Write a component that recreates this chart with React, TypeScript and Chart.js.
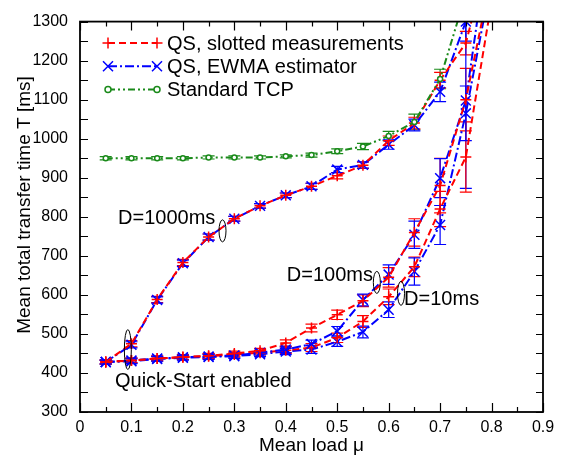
import React, { useEffect, useRef } from "react";
import { Chart, registerables } from "chart.js";
Chart.register(...registerables);

// ---- data ----
const loads = [0.05, 0.1, 0.15, 0.2, 0.25, 0.3, 0.35, 0.4, 0.45, 0.5, 0.55, 0.6, 0.65, 0.7, 0.75, 0.8];
const tcpLoads = [0.05, 0.1, 0.15, 0.2, 0.25, 0.3, 0.35, 0.4, 0.45, 0.5, 0.55, 0.6, 0.65, 0.7, 0.75];

const slotted1000 = [428, 475, 588, 683, 748, 795, 828, 855, 878, 905, 932, 995, 1040, 1150, 1245, 1500];
const slotted1000Err = [5, 8, 8, 8, 8, 6, 6, 6, 8, 8, 8, 12, 15, 20, 30, 0];
const ewma1000 = [428, 472, 587, 681, 748, 795, 828, 855, 878, 921, 933, 985, 1035, 1120, 1300, 1600];
const ewma1000Err = [5, 8, 8, 8, 8, 6, 6, 6, 8, 8, 8, 12, 15, 25, 50, 0];

const slotted100 = [428, 432, 437, 441, 444, 450, 457, 477, 515, 549, 585, 645, 760, 880, 1100, 1420];
const slotted100Err = [5, 6, 6, 6, 6, 6, 6, 8, 10, 12, 15, 25, 35, 70, 80, 0];
const ewma100 = [428, 432, 437, 440, 442, 445, 452, 460, 474, 507, 587, 652, 754, 899, 1098, 1560];
const ewma100Err = [5, 6, 6, 6, 6, 6, 6, 8, 10, 12, 15, 25, 35, 50, 225, 0];

const slotted10 = [428, 432, 437, 440, 443, 447, 452, 458, 465, 490, 532, 595, 672, 820, 953, 1350];
const slotted10Err = [5, 6, 6, 6, 6, 6, 6, 8, 10, 12, 15, 20, 25, 45, 90, 0];
const ewma10 = [428, 430, 436, 439, 441, 443, 448, 455, 460, 480, 505, 562, 660, 779, 1065, 1410];
const ewma10Err = [5, 6, 6, 6, 6, 6, 6, 8, 10, 12, 15, 20, 35, 50, 70, 0];

const tcp = [950, 950, 950, 950, 952, 952, 952, 955, 958, 968, 980, 1007, 1043, 1153, 1370];
const tcpErr = [4, 4, 4, 4, 4, 4, 4, 4, 5, 6, 8, 12, 20, 25, 0];

const xTickLabels = ["0", "0.1", "0.2", "0.3", "0.4", "0.5", "0.6", "0.7", "0.8", "0.9"];
const yTickLabels = ["300", "400", "500", "600", "700", "800", "900", "1000", "1100", "1200", "1300"];

const legendLabels = ["QS, slotted measurements", "QS, EWMA estimator", "Standard TCP"];
const annotationTexts = ["D=1000ms", "D=100ms", "D=10ms", "Quick-Start enabled"];
const annotationAt = [[0.074, 796], [0.402, 650], [0.63, 588], [0.068, 377]];
const ellipseAt = [[0.093, 460, 20], [0.277, 764, 11], [0.577, 632, 11], [0.624, 604, 12]];

const RED = "#ff0000";
const BLUE = "#0000ff";
const GREEN = "#1a8a1a";
const FONT = "'Liberation Sans', Arial, sans-serif";

const redDash = [7, 4];
const blueDash = [9, 3, 2, 3];
const greenDash = [7, 3, 2, 3, 2, 3];

function pts(xs: number[], ys: number[]) {
  return ys.map((y, i) => ({ x: xs[i], y }));
}

function drawMarker(ctx: CanvasRenderingContext2D, kind: string, x: number, y: number, color: string) {
  ctx.save();
  ctx.setLineDash([]);
  ctx.strokeStyle = color;
  ctx.lineWidth = 1.5;
  ctx.beginPath();
  if (kind === "cross") {
    ctx.moveTo(x - 5.5, y); ctx.lineTo(x + 5.5, y);
    ctx.moveTo(x, y - 5.5); ctx.lineTo(x, y + 5.5);
  } else if (kind === "crossRot") {
    ctx.moveTo(x - 5, y - 5); ctx.lineTo(x + 5, y + 5);
    ctx.moveTo(x - 5, y + 5); ctx.lineTo(x + 5, y - 5);
  } else {
    ctx.fillStyle = "#fff";
    ctx.arc(x, y, 3, 0, Math.PI * 2);
    ctx.fill();
  }
  ctx.stroke();
  ctx.restore();
}

const decor = {
  id: "decor",
  beforeDatasetsDraw(chart: any) {
    const { ctx, chartArea: a, scales } = chart;
    const xs = scales.x, ys = scales.y;
    ctx.save();
    ctx.beginPath();
    ctx.rect(a.left, a.top, a.right - a.left, a.bottom - a.top);
    ctx.clip();
    chart.data.datasets.forEach((ds: any) => {
      if (!ds.errors) return;
      ctx.strokeStyle = ds.borderColor;
      ctx.lineWidth = 1.2;
      ctx.setLineDash([]);
      ds.data.forEach((p: any, i: number) => {
        const e = ds.errors[i];
        if (!e) return;
        const px = xs.getPixelForValue(p.x);
        const y1 = ys.getPixelForValue(p.y - e);
        const y2 = ys.getPixelForValue(p.y + e);
        ctx.beginPath();
        ctx.moveTo(px, y1); ctx.lineTo(px, y2);
        ctx.moveTo(px - 6, y1); ctx.lineTo(px + 6, y1);
        ctx.moveTo(px - 6, y2); ctx.lineTo(px + 6, y2);
        ctx.stroke();
      });
    });
    ctx.restore();
  },
  afterDraw(chart: any) {
    const { ctx, chartArea: a, scales } = chart;
    const xs = scales.x, ys = scales.y;
    ctx.save();
    // ticks
    ctx.strokeStyle = "#000";
    ctx.lineWidth = 1.2;
    ctx.setLineDash([]);
    for (let i = 0; i <= 18; i++) {
      const v = i * 0.05;
      const px = Math.round(xs.getPixelForValue(v)) + 0.5;
      const len = i % 2 === 0 ? 9 : 5;
      ctx.beginPath();
      ctx.moveTo(px, a.bottom); ctx.lineTo(px, a.bottom - len);
      ctx.moveTo(px, a.top); ctx.lineTo(px, a.top + len);
      ctx.stroke();
    }
    for (let v = 300; v <= 1300; v += 50) {
      const py = Math.round(ys.getPixelForValue(v)) + 0.5;
      ctx.beginPath();
      ctx.moveTo(a.left, py); ctx.lineTo(a.left + 8, py);
      ctx.moveTo(a.right, py); ctx.lineTo(a.right - 7, py);
      ctx.stroke();
    }
    // frame
    ctx.lineWidth = 1.8;
    ctx.strokeRect(a.left, a.top, a.right - a.left, a.bottom - a.top);

    // axis titles
    ctx.fillStyle = "#000";
    ctx.font = `19px ${FONT}`;
    ctx.textAlign = "center";
    ctx.textBaseline = "middle";
    ctx.fillText("Mean load \u03bc", (a.left + a.right) / 2, 446);
    ctx.save();
    ctx.translate(25, 205);
    ctx.rotate(-Math.PI / 2);
    ctx.fillText("Mean total transfer time T [ms]", 0, 0);
    ctx.restore();

    // legend
    const rows = [
      { color: RED, dash: redDash, m: "cross" },
      { color: BLUE, dash: blueDash, m: "crossRot" },
      { color: GREEN, dash: greenDash, m: "circle" },
    ];
    rows.forEach((r, i) => {
      const y = 43 + i * 23.3;
      ctx.strokeStyle = r.color;
      ctx.lineWidth = 2;
      ctx.setLineDash(r.dash);
      ctx.beginPath();
      ctx.moveTo(108, y); ctx.lineTo(157, y);
      ctx.stroke();
      drawMarker(ctx, r.m, 108, y, r.color);
      drawMarker(ctx, r.m, 157, y, r.color);
      ctx.fillStyle = "#000";
      ctx.textAlign = "left";
      ctx.font = `20px ${FONT}`;
      ctx.fillText(legendLabels[i], 167, y + 1);
    });

    // annotations
    ctx.setLineDash([]);
    ctx.font = `20px ${FONT}`;
    ctx.textAlign = "left";
    ctx.fillStyle = "#000";
    annotationTexts.forEach((t, i) => {
      const [vx, vy] = annotationAt[i];
      ctx.fillText(t, xs.getPixelForValue(vx), ys.getPixelForValue(vy));
    });
    ctx.strokeStyle = "#000";
    ctx.lineWidth = 1;
    ellipseAt.forEach(([vx, vy, ry]) => {
      ctx.beginPath();
      ctx.ellipse(xs.getPixelForValue(vx), ys.getPixelForValue(vy), 3.5, ry, 0, 0, Math.PI * 2);
      ctx.stroke();
    });
    ctx.restore();
  },
};

function series(label: string, xs: number[], ys: number[], errs: number[], color: string, dash: number[], style: string, radius: number) {
  return {
    label,
    data: pts(xs, ys),
    errors: errs,
    borderColor: color,
    backgroundColor: style === "circle" ? "#ffffff" : color,
    borderWidth: 2,
    borderDash: dash,
    pointStyle: style,
    pointRadius: radius,
    pointBorderWidth: 1.5,
    pointBorderColor: color,
    pointBackgroundColor: style === "circle" ? "#ffffff" : color,
    tension: 0,
    fill: false,
  };
}

export default function App() {
  const ref = useRef<HTMLCanvasElement>(null);
  useEffect(() => {
    if (!ref.current) return;
    const chart = new Chart(ref.current, {
      type: "line",
      data: {
        datasets: [
          series("tcp", tcpLoads, tcp, tcpErr, GREEN, greenDash, "circle", 2.5),
          series("s1000", loads, slotted1000, slotted1000Err, RED, redDash, "cross", 5.5),
          series("e1000", loads, ewma1000, ewma1000Err, BLUE, blueDash, "crossRot", 7),
          series("s100", loads, slotted100, slotted100Err, RED, redDash, "cross", 5.5),
          series("e100", loads, ewma100, ewma100Err, BLUE, blueDash, "crossRot", 7),
          series("s10", loads, slotted10, slotted10Err, RED, redDash, "cross", 5.5),
          series("e10", loads, ewma10, ewma10Err, BLUE, blueDash, "crossRot", 7),
        ] as any,
      },
      options: {
        animation: false,
        responsive: false,
        maintainAspectRatio: false,
        layout: { padding: { left: 0, right: 22, top: 11, bottom: 0 } },
        plugins: { legend: { display: false }, tooltip: { enabled: false } },
        scales: {
          x: {
            type: "linear",
            min: 0,
            max: 0.9,
            grid: { display: false, drawTicks: false },
            border: { display: false },
            afterFit: (s: any) => { s.height = 48; },
            afterBuildTicks: (s: any) => { s.ticks = xTickLabels.map((l) => ({ value: parseFloat(l) })); },
            ticks: {
              color: "#000",
              padding: 6,
              maxRotation: 0,
              autoSkip: false,
              font: { family: FONT, size: 16 },
              callback: (v: any, i: number) => xTickLabels[i],
            },
          },
          y: {
            type: "linear",
            min: 300,
            max: 1300,
            grid: { display: false, drawTicks: false },
            border: { display: false },
            afterFit: (s: any) => { s.width = 80; },
            afterBuildTicks: (s: any) => { s.ticks = yTickLabels.map((l) => ({ value: parseFloat(l) })); },
            ticks: {
              color: "#000",
              padding: 12,
              autoSkip: false,
              font: { family: FONT, size: 16 },
              callback: (v: any, i: number) => yTickLabels[i],
            },
          },
        },
      },
      plugins: [decor],
    });
    return () => chart.destroy();
  }, []);
  return (
    <div style={{ position: "absolute", left: 0, top: 0, width: 565, height: 460, background: "#fff" }}>
      <canvas ref={ref} width={565} height={460} />
    </div>
  );
}
